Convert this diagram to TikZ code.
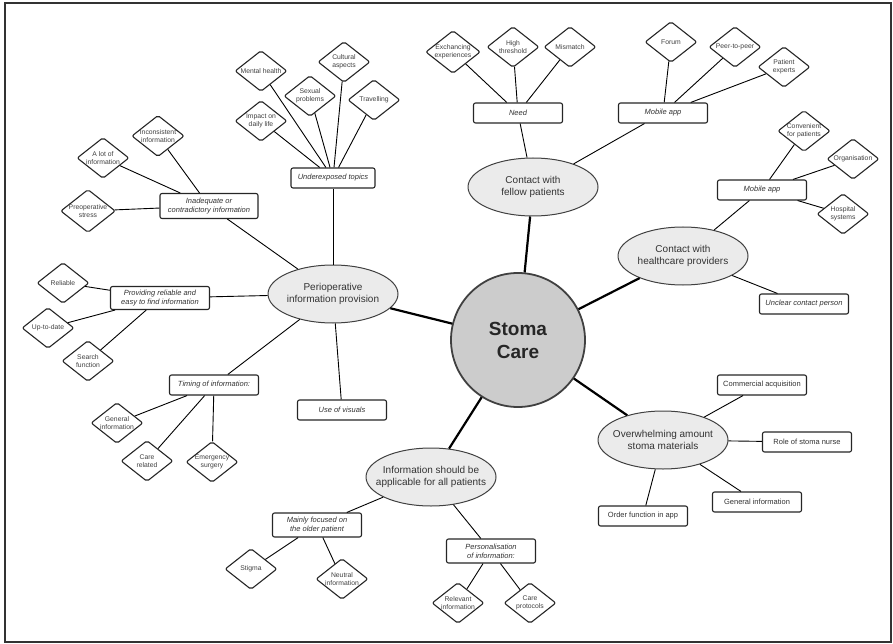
\documentclass[tikz,border=0pt]{standalone}
\usepackage{fontspec}
\setmainfont{Liberation Sans}
\usetikzlibrary{shapes.geometric}

\begin{document}
\begin{tikzpicture}[x=1pt,y=-1pt,
    hub/.style={circle,draw=black!75,line width=1.8pt,fill=black!20,minimum size=134pt,inner sep=0pt,
        font=\fontsize{19}{23}\selectfont\bfseries,align=center,text=black!85},
    theme/.style={ellipse,draw=black!75,line width=1pt,fill=black!8,minimum width=130pt,minimum height=58pt,inner sep=0pt},
    themetext/.style={font=\fontsize{10}{12.5}\selectfont,align=center,text=black!80},
    sub/.style={rectangle,rounded corners=2pt,draw=black!85,line width=1.1pt,fill=white,minimum width=89pt,
        minimum height=20pt,inner xsep=4pt,inner ysep=1pt,font=\fontsize{7.5}{9}\selectfont\itshape,align=center,text=black!80},
    subup/.style={sub,font=\fontsize{7.5}{9}\selectfont},
    leaf/.style={diamond,rounded corners=2pt,draw=black!85,line width=1.1pt,fill=white,aspect=1.27,inner sep=0pt,
        minimum width=52pt,minimum height=41pt,font=\fontsize{6.8}{7.8}\selectfont,align=center,text=black!75},
    link/.style={line width=0.9pt},
    spoke/.style={line width=2.2pt}]
    \useasboundingbox (0,0) rectangle (893,644);
    \draw [line width=1.4pt,black!80] (5,3) rectangle (891,642);

    % centre and themes
    \node [hub] (stoma) at (518,340) {Stoma\\Care};
    \node [theme,label={[themetext]center:Contact with\\fellow patients}] (fellow) at (533,187) {};
    \node [theme,label={[themetext]center:Contact with\\healthcare providers}] (carers) at (683,256) {};
    \node [theme,label={[themetext]center:Perioperative\\information provision}] (periop) at (333,294) {};
    \node [theme,label={[themetext]center:Information should be\\applicable for all patients}] (allpat) at (431,477) {};
    \node [theme,label={[themetext]center:Overwhelming amount\\stoma materials}] (material) at (663,440) {};

    % contact with fellow patients
    \node [sub] (need) at (518,113) {Need};
    \node [sub] (appfel) at (663,113) {Mobile app};
    \node [leaf] (exch) at (453,52) {Exchancing\\experiences};
    \node [leaf] (thresh) at (513,47) {High\\threshold};
    \node [leaf] (mismatch) at (570,47) {Mismatch};
    \node [leaf] (forum) at (671,42) {Forum};
    \node [leaf] (peer) at (735,47) {Peer-to-peer};
    \node [leaf] (experts) at (784,67) {Patient\\experts};

    % contact with healthcare providers
    \node [sub] (appcare) at (762,190) {Mobile app};
    \node [sub] (unclear) at (804,304) {Unclear contact person};
    \node [leaf] (conven) at (804,131) {Convenient\\for patients};
    \node [leaf] (organ) at (853,159) {Organisation};
    \node [leaf] (hosp) at (843,214) {Hospital\\systems};

    % perioperative information provision
    \node [sub,minimum width=84pt] (underexp) at (333,178) {Underexposed topics};
    \node [sub,minimum width=98pt,minimum height=25pt] (inadeq) at (209,206) {Inadequate or\\contradictory information};
    \node [sub,minimum width=99pt,minimum height=23pt] (easy) at (160,298) {Providing reliable and\\easy to find information};
    \node [sub] (timing) at (214,385) {Timing of information:};
    \node [sub] (visuals) at (342,410) {Use of visuals};
    \node [leaf] (mental) at (261,71) {Mental health};
    \node [leaf] (impact) at (261,121) {Impact on\\daily life};
    \node [leaf] (sexual) at (310,96) {Sexual\\problems};
    \node [leaf] (cultural) at (344,62) {Cultural\\aspects};
    \node [leaf] (travel) at (374,100) {Travelling};
    \node [leaf] (inconsist) at (158,136) {Inconsistent\\information};
    \node [leaf] (alot) at (103,158) {A lot of\\information};
    \node [leaf] (stress) at (88,211) {Preoperative\\stress};
    \node [leaf] (reliable) at (63,283) {Reliable};
    \node [leaf] (uptodate) at (48,328) {Up-to-date};
    \node [leaf] (search) at (88,361) {Search\\function};
    \node [leaf] (geninfol) at (117,423) {General\\information};
    \node [leaf] (carerel) at (147,461) {Care\\related};
    \node [leaf] (emerg) at (212,462) {Emergency\\surgery};

    % applicable for all patients
    \node [sub,minimum height=24pt] (older) at (317,525) {Mainly focused on\\the older patient};
    \node [sub,minimum height=24pt] (personal) at (491,551) {Personalisation\\of information:};
    \node [leaf] (stigma) at (251,569) {Stigma};
    \node [leaf] (neutral) at (342,579) {Neutral\\information};
    \node [leaf] (relevant) at (458,603) {Relevant\\information};
    \node [leaf] (protocol) at (530,603) {Care\\protocols};

    % stoma materials
    \node [subup] (commerce) at (762,385) {Commercial acquisition};
    \node [subup] (nurse) at (807,442) {Role of stoma nurse};
    \node [subup] (geninfor) at (757,502) {General information};
    \node [subup] (order) at (643,516) {Order function in app};

    % links
    \foreach \t in {fellow,carers,periop,allpat,material}
        \draw [spoke] (stoma) -- (\t);
    \draw [link] (fellow) -- (need);
    \draw [link] (fellow) -- (appfel);
    \foreach \l in {exch,thresh,mismatch} \draw [link] (need) -- (\l);
    \foreach \l in {forum,peer,experts} \draw [link] (appfel) -- (\l);
    \draw [link] (carers) -- (appcare);
    \draw [link] (carers) -- (unclear);
    \foreach \l in {conven,organ,hosp} \draw [link] (appcare) -- (\l);
    \foreach \s in {underexp,inadeq,easy,timing,visuals} \draw [link] (periop) -- (\s);
    \foreach \l in {mental,impact,sexual,cultural,travel} \draw [link] (underexp) -- (\l);
    \foreach \l in {inconsist,alot,stress} \draw [link] (inadeq) -- (\l);
    \foreach \l in {reliable,uptodate,search} \draw [link] (easy) -- (\l);
    \foreach \l in {geninfol,carerel,emerg} \draw [link] (timing) -- (\l);
    \draw [link] (allpat) -- (older);
    \draw [link] (allpat) -- (personal);
    \foreach \l in {stigma,neutral} \draw [link] (older) -- (\l);
    \foreach \l in {relevant,protocol} \draw [link] (personal) -- (\l);
    \foreach \s in {commerce,nurse,geninfor,order} \draw [link] (material) -- (\s);
\end{tikzpicture}
\end{document}
